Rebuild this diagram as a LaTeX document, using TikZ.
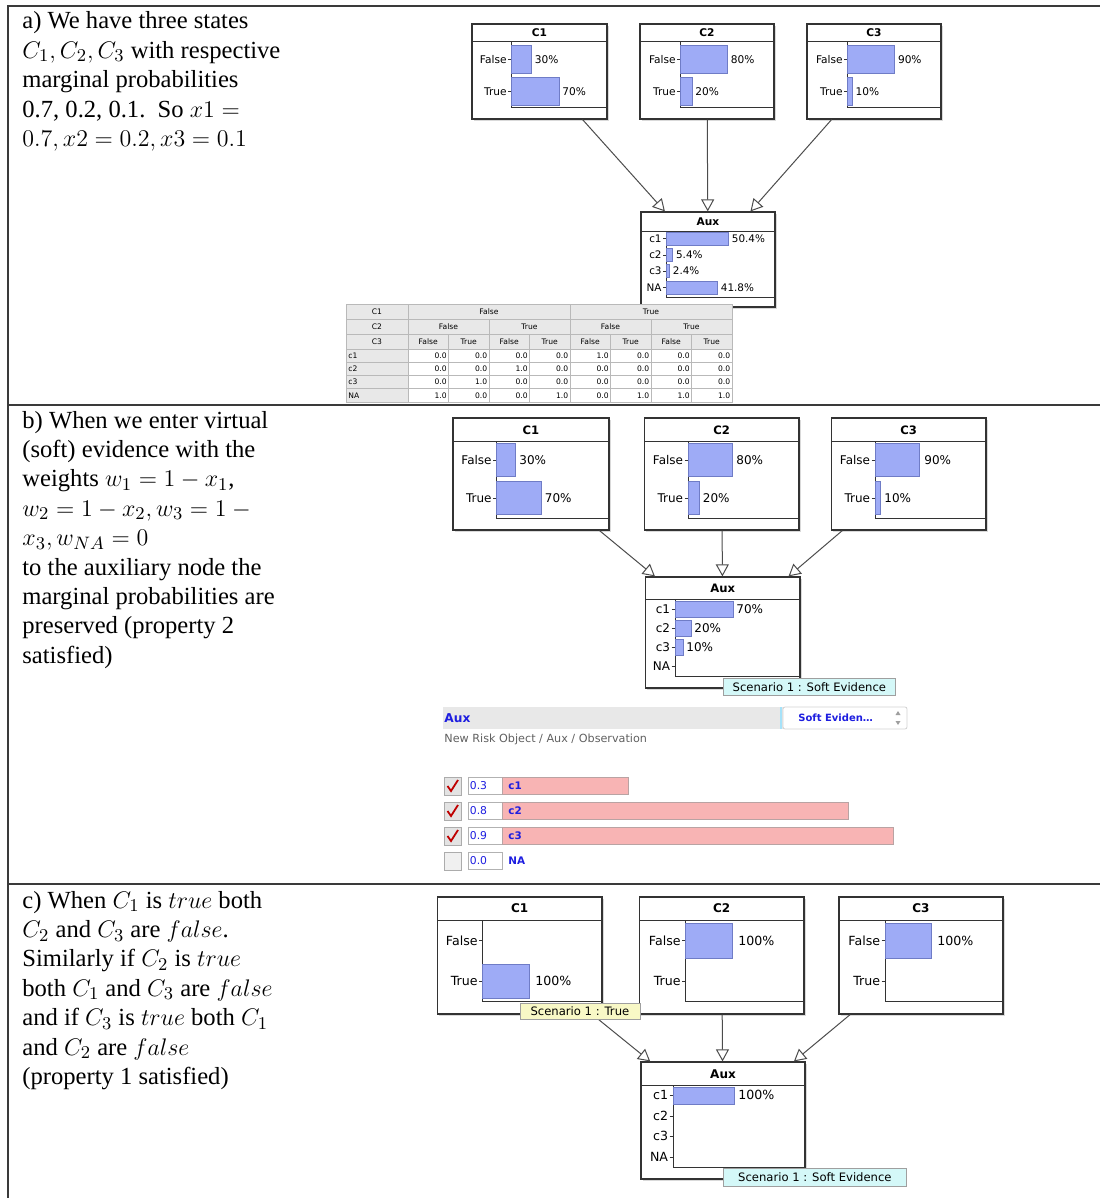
\documentclass[tikz,border=0pt]{standalone}
\usepackage{fontspec}
\setmainfont{Liberation Serif}
\setsansfont{DejaVu Sans}
\usetikzlibrary{arrows.meta,fit,shadows}

\definecolor{barfill}{HTML}{9EABF6}
\definecolor{bardraw}{HTML}{6F7CC6}
\definecolor{evfill}{HTML}{F8B4B4}
\definecolor{evdraw}{HTML}{B9A3A3}
\definecolor{uiblue}{HTML}{1E1EE0}
\definecolor{tipcyan}{HTML}{D4F8F8}
\definecolor{tipyellow}{HTML}{F8F8C6}
\definecolor{panelgray}{HTML}{E8E8E8}
\definecolor{framegray}{HTML}{3A3A3A}

\tikzset{
  frame/.style={draw=framegray, line width=0.8pt},
  desc/.style={anchor=base west, align=left, inner sep=0pt, font=\fontsize{12.3}{14.7}\selectfont},
  bnbox/.style={draw=black!80, line width=0.6pt, fill=white, inner sep=0pt,
    drop shadow={shadow xshift=0.8pt, shadow yshift=-0.8pt, opacity=0.3}},
  bnline/.style={draw=black!80, line width=0.5pt},
  bnbar/.style={draw=bardraw, fill=barfill, line width=0.4pt},
  ttl/.style={font=\sffamily\bfseries\fontsize{#1}{#1}\selectfont, inner sep=0pt},
  lbl/.style={font=\sffamily\fontsize{#1}{#1}\selectfont, anchor=east, inner sep=0pt},
  pct/.style={font=\sffamily\fontsize{#1}{#1}\selectfont, anchor=west, inner sep=0pt},
  dep/.style={draw=black!70, line width=0.5pt, -{Triangle[open, length=6pt, width=6.5pt]}},
  scen/.style={draw=gray!75, line width=0.4pt, inner sep=0pt, anchor=north west, font=\sffamily\fontsize{5.8}{6}\selectfont},
  tcell/.style={draw=gray!55, line width=0.3pt},
  ttxt/.style={font=\sffamily\fontsize{3.8}{4}\selectfont, inner sep=0pt},
  ui/.style={font=\sffamily\bfseries\fontsize{#1}{#1}\selectfont, text=uiblue, anchor=west, inner sep=0pt},
}

\begin{document}
\begin{tikzpicture}[x=0.5pt, y=-0.5pt]
	\useasboundingbox (0,0) rectangle (1100,1198);
	\draw[frame] (8,1198) -- (8,6) -- (1100,6);
	\draw[frame] (8,405) -- (1100,405);
	\draw[frame] (8,884) -- (1100,884);

	% a) -- text placed by the baseline of its last line
	\node[desc] (ta) at (22,146.6) {a) We have three states\\
		$C_1, C_2, C_3$ with respective\\
		marginal probabilities\\
		0.7, 0.2, 0.1.\ \ So $x1 ={}$\\
		$0.7, x2 = 0.2, x3 = 0.1$};

	\node[bnbox, fit={(472,24) (607,119)}] (c1a) {};
	\draw[bnline] (472,42) -- (607,42) (511,42) -- (511,108) -- (607,108);
	\draw[bnline] (508,59.5) -- (511,59.5) (508,91.5) -- (511,91.5);
	\draw[bnbar] (511,45.5) rectangle (531.6,73.5) (511,77.5) rectangle (559.3,105.5);
	\node[ttl=5.3] (c1at) at (539.5,33) {C1};
	\node[lbl=5.3] (c1af) at (507,59.5) {False};
	\node[lbl=5.3] (c1ar) at (507,91.5) {True};
	\node[pct=5.3] (c1ap) at (534.5,59.5) {30\%};
	\node[pct=5.3] (c1aq) at (562,91.5) {70\%};

	\node[bnbox, fit={(640,24) (774,119)}] (c2a) {};
	\draw[bnline] (640,42) -- (774,42) (680,42) -- (680,108) -- (774,108);
	\draw[bnline] (677,59.5) -- (680,59.5) (677,91.5) -- (680,91.5);
	\draw[bnbar] (680,45.5) rectangle (727.5,73.5) (680,77.5) rectangle (692,105.5);
	\node[ttl=5.3] (c2at) at (707,33) {C2};
	\node[lbl=5.3] (c2af) at (676,59.5) {False};
	\node[lbl=5.3] (c2ar) at (676,91.5) {True};
	\node[pct=5.3] (c2ap) at (730.5,59.5) {80\%};
	\node[pct=5.3] (c2aq) at (695,91.5) {20\%};

	\node[bnbox, fit={(807,24) (941,119)}] (c3a) {};
	\draw[bnline] (807,42) -- (941,42) (847,42) -- (847,108) -- (941,108);
	\draw[bnline] (844,59.5) -- (847,59.5) (844,91.5) -- (847,91.5);
	\draw[bnbar] (847,45.5) rectangle (894.6,73.5) (847,77.5) rectangle (852.3,105.5);
	\node[ttl=5.3] (c3at) at (874,33) {C3};
	\node[lbl=5.3] (c3af) at (843,59.5) {False};
	\node[lbl=5.3] (c3ar) at (843,91.5) {True};
	\node[pct=5.3] (c3ap) at (897.6,59.5) {90\%};
	\node[pct=5.3] (c3aq) at (855.3,91.5) {10\%};

	\node[bnbox, fit={(641,212) (775,307)}] (auxa) {};
	\draw[bnline] (641,231.5) -- (775,231.5) (666,231.5) -- (666,297) -- (775,297);
	\draw[bnbar] (666,232.5) rectangle (728,245.5) (666,248.5) rectangle (672.6,261.5)
		(666,264.5) rectangle (669,277.5) (666,281) rectangle (717.4,294);
	\node[ttl=5.3] (auxat) at (708,221.5) {Aux};
	\foreach \y/\s in {239/c1,255/c2,271/c3,287.5/NA}{
		\draw[bnline] (663,\y) -- (666,\y);
		\node[lbl=5.2] (auxa-\s) at (662,\y) {\s};
	}
	\node[pct=5.2] (auxa1) at (731.5,239) {50.4\%};
	\node[pct=5.2] (auxa2) at (675.7,255) {5.4\%};
	\node[pct=5.2] (auxa3) at (672.5,271) {2.4\%};
	\node[pct=5.2] (auxa4) at (720.5,287.5) {41.8\%};

	\draw[dep] (c1a) -- (auxa);
	\draw[dep] (c2a) -- (auxa);
	\draw[dep] (c3a) -- (auxa);

	% table
	\fill[white] (346,304) rectangle (732,402);
	\foreach \y in {304,319,334}
		\draw[tcell, fill=panelgray] (346,\y) rectangle (408,\y+15);
	\draw[tcell, fill=panelgray] (408,304) rectangle (570,319) (570,304) rectangle (732,319);
	\foreach \i in {0,...,3}
		\draw[tcell, fill=panelgray] (408+81*\i,319) rectangle (489+81*\i,334);
	\foreach \i in {0,...,7}
		\draw[tcell, fill=panelgray] (408+40.5*\i,334) rectangle (448.5+40.5*\i,349);
	\node[ttxt] (tc1) at (377,311.5) {C1};
	\node[ttxt] (tc2) at (377,326.5) {C2};
	\node[ttxt] (tc3) at (377,341.5) {C3};
	\node[ttxt] (tf1) at (489,311.5) {False};
	\node[ttxt] (tt1) at (651,311.5) {True};
	\foreach \t [count=\i from 0] in {False,True,False,True}
		\node[ttxt] (tb\i) at (448.5+81*\i,326.5) {\t};
	\foreach \i in {0,2,4,6}{
		\node[ttxt] (tf\i) at (428.25+40.5*\i,341.5) {False};
		\node[ttxt] (tt\i) at (468.75+40.5*\i,341.5) {True};
	}
	\foreach \r/\n/\vals in {0/c1/{0.0,0.0,0.0,0.0,1.0,0.0,0.0,0.0},
			1/c2/{0.0,0.0,1.0,0.0,0.0,0.0,0.0,0.0},
			2/c3/{0.0,1.0,0.0,0.0,0.0,0.0,0.0,0.0},
			3/NA/{1.0,0.0,0.0,1.0,0.0,1.0,1.0,1.0}}{
		\draw[tcell, fill=panelgray] (346,349+13.25*\r) rectangle (408,362.25+13.25*\r);
		\node[ttxt, anchor=west] (row\n) at (348,355.6+13.25*\r) {\n};
		\foreach \v [count=\i from 0] in \vals {
			\draw[tcell, fill=white] (408+40.5*\i,349+13.25*\r) rectangle (448.5+40.5*\i,362.25+13.25*\r);
			\node[ttxt, anchor=east] (v\n\i) at (447+40.5*\i,355.6+13.25*\r) {\v};
		}
	}

	% b)
	\node[desc] (tb) at (22,663.2) {b) When we enter virtual\\
		(soft) evidence with the\\
		weights $w_1 = 1 - x_1$,\\
		$w_2 = 1 - x_2, w_3 = 1 -{}$\\
		$x_3, w_{NA} = 0$\\
		to the auxiliary node the\\
		marginal probabilities are\\
		preserved (property 2\\
		satisfied)};

	\node[bnbox, fit={(453,418) (609,530)}] (c1b) {};
	\draw[bnline] (453,441) -- (609,441) (496.5,441) -- (496.5,518) -- (609,518);
	\draw[bnline] (493,460) -- (496.5,460) (493,498) -- (496.5,498);
	\draw[bnbar] (496.5,443.5) rectangle (515.5,476.5) (496.5,481.5) rectangle (541,514.5);
	\node[ttl=5.8] (c1bt) at (531,430) {C1};
	\node[lbl=6] (c1bf) at (492,460) {False};
	\node[lbl=6] (c1br) at (492,498) {True};
	\node[pct=6] (c1bp) at (519,460) {30\%};
	\node[pct=6] (c1bq) at (544.5,498) {70\%};

	\node[bnbox, fit={(644.5,418) (799,530)}] (c2b) {};
	\draw[bnline] (644.5,441) -- (799,441) (688,441) -- (688,518) -- (799,518);
	\draw[bnline] (684.5,460) -- (688,460) (684.5,498) -- (688,498);
	\draw[bnbar] (688,443.5) rectangle (732.3,476.5) (688,481.5) rectangle (699,514.5);
	\node[ttl=5.8] (c2bt) at (721.75,430) {C2};
	\node[lbl=6] (c2bf) at (683.5,460) {False};
	\node[lbl=6] (c2br) at (683.5,498) {True};
	\node[pct=6] (c2bp) at (736,460) {80\%};
	\node[pct=6] (c2bq) at (702.5,498) {20\%};

	\node[bnbox, fit={(831.5,418) (986,530)}] (c3b) {};
	\draw[bnline] (831.5,441) -- (986,441) (875,441) -- (875,518) -- (986,518);
	\draw[bnline] (871.5,460) -- (875,460) (871.5,498) -- (875,498);
	\draw[bnbar] (875,443.5) rectangle (919.6,476.5) (875,481.5) rectangle (880,514.5);
	\node[ttl=5.8] (c3bt) at (908.75,430) {C3};
	\node[lbl=6] (c3bf) at (870.5,460) {False};
	\node[lbl=6] (c3br) at (870.5,498) {True};
	\node[pct=6] (c3bp) at (924,460) {90\%};
	\node[pct=6] (c3bq) at (884,498) {10\%};

	\node[bnbox, fit={(645.5,577) (800,688)}] (auxb) {};
	\draw[bnline] (645.5,599) -- (800,599) (675,599) -- (675,676) -- (800,676);
	\draw[bnbar] (675,601) rectangle (733,617) (675,620) rectangle (691,636) (675,639) rectangle (683,655);
	\node[ttl=5.8] (auxbt) at (722.75,588) {Aux};
	\foreach \y/\s in {609/c1,628/c2,647/c3,666/NA}{
		\draw[bnline] (671.5,\y) -- (675,\y);
		\node[lbl=6] (auxb-\s) at (670.5,\y) {\s};
	}
	\node[pct=6] (auxb1) at (736,609) {70\%};
	\node[pct=6] (auxb2) at (694,628) {20\%};
	\node[pct=6] (auxb3) at (686,647) {10\%};

	\draw[dep] (c1b) -- (auxb);
	\draw[dep] (c2b) -- (auxb);
	\draw[dep] (c3b) -- (auxb);
	\node[scen, fill=tipcyan, minimum width=86pt, minimum height=8.5pt] (sevb) at (723,678) {Scenario 1 : Soft Evidence};

	% evidence panel
	\fill[panelgray] (443,707) rectangle (907,729);
	\node[ui=6.1] (auxp) at (444,718) {Aux};
	\draw[cyan!35, line width=1pt] (781,707) -- (781,729);
	\node[draw=gray!35, fill=white, rounded corners=1pt, inner sep=0pt, fit={(783,707) (907,729)}] (evtype) {};
	\node[ui=5] (evtypet) at (798,718) {Soft Eviden\ldots};
	\fill[gray!75] (895.5,715) -- (900.5,715) -- (898,711) -- cycle (895.5,721) -- (900.5,721) -- (898,725) -- cycle;
	\node[font=\sffamily\fontsize{5.6}{6}\selectfont, text=gray!75!black, anchor=west, inner sep=0pt] (evpath) at (444,739.5) {New Risk Object / Aux / Observation};
	\foreach \y/\w/\v/\s in {786/628/0.3/c1, 811/848/0.8/c2, 836/893/0.9/c3}{
		\draw[draw=gray!65, fill=gray!22] (444,\y-9) rectangle (461.5,\y+9);
		\draw[red!75!black, line width=0.9pt] (447.5,\y) -- (451,\y+5) -- (458,\y-6);
		\draw[draw=gray!60, fill=white] (468,\y-8.5) rectangle (502,\y+8.5);
		\draw[draw=evdraw, fill=evfill] (502,\y-8.5) rectangle (\w,\y+8.5);
		\node[font=\sffamily\fontsize{5.4}{6}\selectfont, text=uiblue, anchor=west, inner sep=0pt] (w\s) at (469.5,\y) {\v};
		\node[ui=5.2] (ev\s) at (508,\y) {\s};
	}
	\draw[draw=gray!65, fill=gray!12] (444,852) rectangle (461.5,870);
	\draw[draw=gray!60, fill=white] (468,852.5) rectangle (502,869.5);
	\node[font=\sffamily\fontsize{5.4}{6}\selectfont, text=uiblue, anchor=west, inner sep=0pt] (wNA) at (469.5,861) {0.0};
	\node[ui=5.2] (evNA) at (508,861) {NA};

	% c)
	\node[desc] (tc) at (22,1084.4) {c) When $C_1$ is $true$ both\\
		$C_2$ and $C_3$ are $false$.\\
		Similarly if $C_2$ is $true$\\
		both $C_1$ and $C_3$ are $false$\\
		and if $C_3$ is $true$ both $C_1$\\
		and $C_2$ are $false$\\
		(property 1 satisfied)};

	\node[bnbox, fit={(437.5,897) (602,1014)}] (c1c) {};
	\draw[bnline] (437.5,920.5) -- (602,920.5) (482.5,920.5) -- (482.5,1001) -- (602,1001);
	\draw[bnline] (479,940.5) -- (482.5,940.5) (479,981) -- (482.5,981);
	\draw[bnbar] (482.5,964) rectangle (529.6,998);
	\node[ttl=6] (c1ct) at (519.75,908.5) {C1};
	\node[lbl=6.3] (c1cf) at (478,940.5) {False};
	\node[lbl=6.3] (c1cr) at (478,981) {True};
	\node[pct=6.3] (c1cq) at (535,981) {100\%};

	\node[bnbox, fit={(639.5,897) (804,1014)}] (c2c) {};
	\draw[bnline] (639.5,920.5) -- (804,920.5) (685.5,920.5) -- (685.5,1001) -- (804,1001);
	\draw[bnline] (682,940.5) -- (685.5,940.5) (682,981) -- (685.5,981);
	\draw[bnbar] (685.5,923) rectangle (732.6,958);
	\node[ttl=6] (c2ct) at (721.75,908.5) {C2};
	\node[lbl=6.3] (c2cf) at (681,940.5) {False};
	\node[lbl=6.3] (c2cr) at (681,981) {True};
	\node[pct=6.3] (c2cp) at (738,940.5) {100\%};

	\node[bnbox, fit={(839,897) (1003,1014)}] (c3c) {};
	\draw[bnline] (839,920.5) -- (1003,920.5) (885,920.5) -- (885,1001) -- (1003,1001);
	\draw[bnline] (881.5,940.5) -- (885,940.5) (881.5,981) -- (885,981);
	\draw[bnbar] (885,923) rectangle (931.5,958);
	\node[ttl=6] (c3ct) at (921,908.5) {C3};
	\node[lbl=6.3] (c3cf) at (880.5,940.5) {False};
	\node[lbl=6.3] (c3cr) at (880.5,981) {True};
	\node[pct=6.3] (c3cp) at (937,940.5) {100\%};

	\node[bnbox, fit={(641,1062) (805,1179)}] (auxc) {};
	\draw[bnline] (641,1085.5) -- (805,1085.5) (673,1085.5) -- (673,1167) -- (805,1167);
	\draw[bnbar] (673,1087.5) rectangle (734.3,1104.3);
	\node[ttl=6] (auxct) at (723,1074) {Aux};
	\foreach \y/\s in {1095/c1,1116/c2,1136/c3,1157/NA}{
		\draw[bnline] (669.5,\y) -- (673,\y);
		\node[lbl=6.3] (auxc-\s) at (668.5,\y) {\s};
	}
	\node[pct=6.3] (auxc1) at (738,1095) {100\%};

	\draw[dep] (c1c) -- (auxc);
	\draw[dep] (c2c) -- (auxc);
	\draw[dep] (c3c) -- (auxc);
	\node[scen, fill=tipyellow, minimum width=60pt, minimum height=8pt] (strue) at (519.5,1003) {Scenario 1 : True};
	\node[scen, fill=tipcyan, minimum width=91.5pt, minimum height=9pt] (sevc) at (723,1168) {Scenario 1 : Soft Evidence};
\end{tikzpicture}
\end{document}
